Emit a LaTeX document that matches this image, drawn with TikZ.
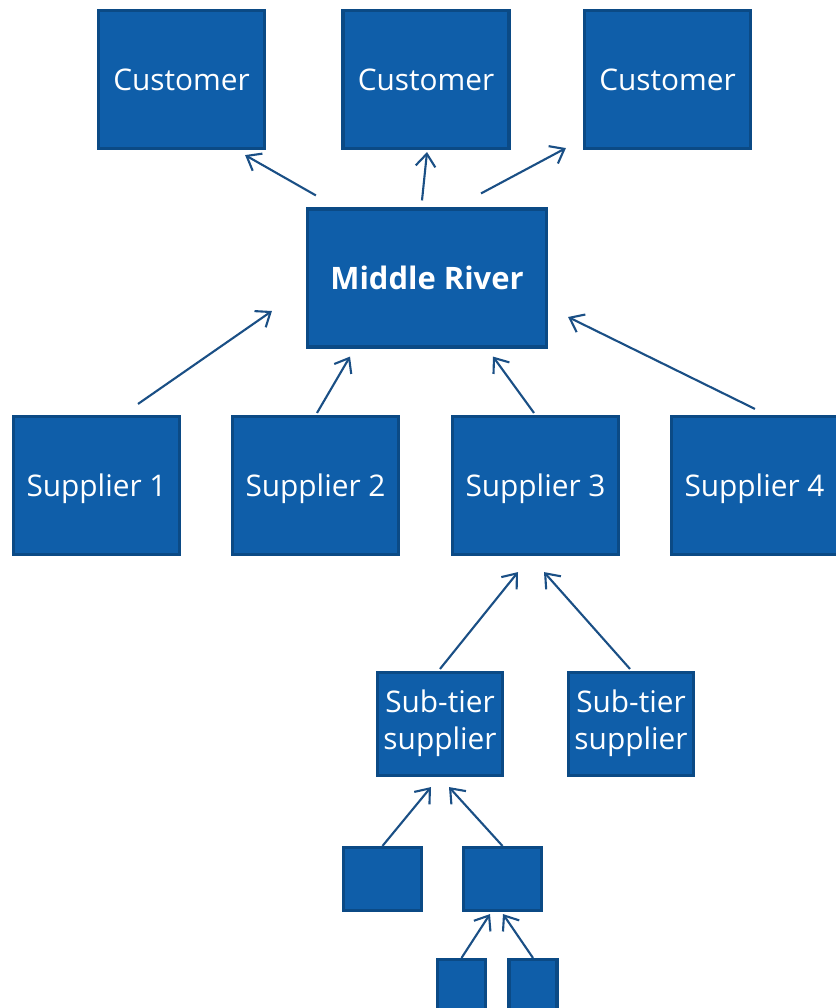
\documentclass[tikz,border=0pt]{standalone}
\usepackage{fontspec}
\setmainfont{Open Sans}
\usetikzlibrary{arrows.meta}
\usetikzlibrary{positioning}
\definecolor{boxfill}{HTML}{0F5EA9}
\definecolor{boxline}{HTML}{0B4A85}
\definecolor{arrline}{HTML}{1A4F85}

\begin{document}
\begin{tikzpicture}[x=0.025cm,y=-0.025cm,
		->,>={Straight Barb[length=9pt,width=14pt]},line width=1.5pt,color=arrline,
		box/.style={draw=boxline,fill=boxfill,line width=2.2pt,text=white,align=center,
			font=\fontsize{21.2}{26.3}\selectfont,inner sep=0pt,
			execute at begin node={\rule[-0.29em]{0pt}{1.35em}},
			execute at end node={\rule[-0.29em]{0pt}{1.35em}}},
		big/.style={box,minimum width=4.15cm,minimum height=3.45cm},
		mid/.style={box,minimum width=3.125cm,minimum height=2.575cm,
			execute at begin node={\rule{0pt}{1.35em}}},
		small/.style={box,minimum width=1.95cm,minimum height=1.575cm},
		tiny/.style={box,minimum width=1.2cm,minimum height=1.575cm}]
		\useasboundingbox (0,0) rectangle (836,1008);
		\node[big] (c1) at (181.5,79.5) {Customer};
		\node[big] (c2) at (426,79.5) {Customer};
		\node[big] (c3) at (667.5,79.5) {Customer};
		\node[big,minimum width=5.975cm,font=\fontsize{22}{27}\selectfont\bfseries] (mr) at (427,278) {Middle River};
		\node[big] (s1) at (96.5,485.5) {Supplier 1};
		\node[big] (s2) at (315.5,485.5) {Supplier 2};
		\node[big] (s3) at (535.5,485.5) {Supplier 3};
		\node[big] (s4) at (754.5,485.5) {Supplier 4};
		\node[mid] (sub1) at (440,724) {Sub-tier\\supplier};
		\node[mid] (sub2) at (631,724) {Sub-tier\\supplier};
		\node[small] (a) at (382.5,879) {};
		\node[small] (b) at (502.5,879) {};
		\node[tiny] (c) at (461.5,991) {};
		\node[tiny] (d) at (533,991) {};
		\draw ([shift={(10,-12)}]mr.north west) -- ([shift={(-21,5)}]c1.south east);
		\draw ([shift={(-5,-7)}]mr.north) -- ([shift={(1,2)}]c2.south);
		\draw ([shift={(54,-14)}]mr.north) -- ([shift={(-17,-2)}]c3.south west);
		\draw ([shift={(41.5,-11)}]s1.north) -- ([shift={(-34,33)}]mr.west);
		\draw ([shift={(1.5,-2)}]s2.north) -- ([shift={(-77,8)}]mr.south);
		\draw ([shift={(-1.5,-2)}]s3.north) -- ([shift={(66,8)}]mr.south);
		\draw ([shift={(0.5,-6)}]s4.north) -- ([shift={(20,39)}]mr.east);
		\draw ([shift={(0,-2)}]sub1.north) -- ([shift={(-17.5,16)}]s3.south);
		\draw ([shift={(-1,-2)}]sub2.north) -- ([shift={(8.5,16)}]s3.south);
		\draw (a.north) -- ([shift={(-9,10)}]sub1.south);
		\draw (b.north) -- ([shift={(9,10)}]sub1.south);
		\draw (c.north) -- ([shift={(-12.5,2)}]b.south);
		\draw (d.north) -- ([shift={(0.5,2)}]b.south);
\end{tikzpicture}
\end{document}
